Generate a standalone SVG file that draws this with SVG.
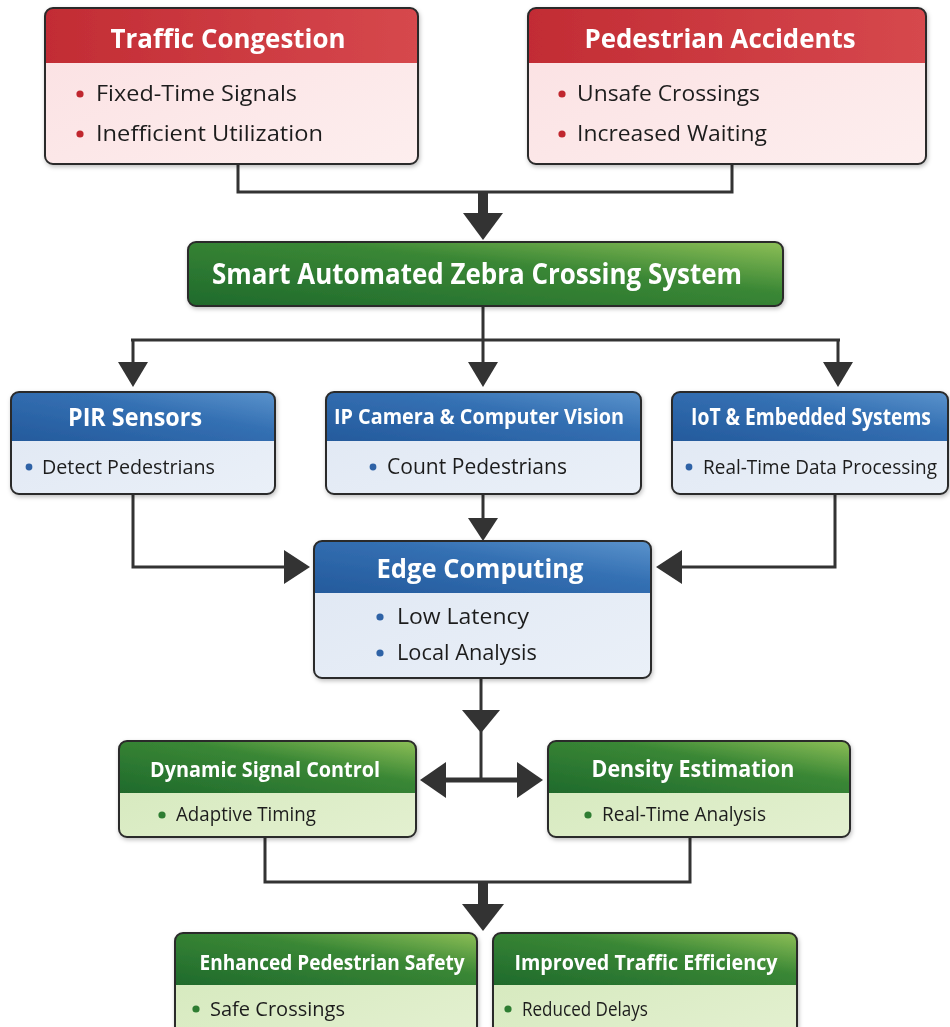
<svg xmlns="http://www.w3.org/2000/svg" width="950" height="1027" viewBox="0 0 950 1027">
<defs>
<linearGradient id="gRed" x1="0" y1="0" x2="1" y2="0"><stop offset="0" stop-color="#c22c34"/><stop offset="1" stop-color="#d6484d"/></linearGradient>
<linearGradient id="gRedB" x1="0" y1="0" x2="1" y2="1"><stop offset="0" stop-color="#fbe0e2"/><stop offset="1" stop-color="#fdeeee"/></linearGradient>
<linearGradient id="gBlue" x1="0" y1="1" x2="1" y2="0"><stop offset="0" stop-color="#245a9c"/><stop offset="0.6" stop-color="#3470b3"/><stop offset="1" stop-color="#5b93cc"/></linearGradient>
<linearGradient id="gBlueB" x1="0" y1="0" x2="1" y2="1"><stop offset="0" stop-color="#dfe7f3"/><stop offset="1" stop-color="#eaf0f8"/></linearGradient>
<linearGradient id="gGreen" x1="0" y1="1" x2="1" y2="0"><stop offset="0" stop-color="#1f6a2c"/><stop offset="0.6" stop-color="#3a8735"/><stop offset="1" stop-color="#8dbf57"/></linearGradient>
<linearGradient id="gGreenB" x1="0" y1="0" x2="1" y2="1"><stop offset="0" stop-color="#d3e8ba"/><stop offset="1" stop-color="#e3f0d0"/></linearGradient>
<filter id="sh" x="-5%" y="-10%" width="110%" height="130%"><feDropShadow dx="1" dy="2" stdDeviation="2" flood-color="#000" flood-opacity="0.25"/></filter>
</defs>
<style>
.frame{fill:none;stroke:#2b2b2b;stroke-width:2}
.title{font-family:"Open Sans","Liberation Sans",sans-serif;font-weight:700;fill:#ffffff;text-anchor:middle}
.item{font-family:"Open Sans","Liberation Sans",sans-serif;font-weight:400;fill:#1e1e1e}
.line{fill:none;stroke:#333333;stroke-width:3}
.head{fill:#333333}
.dr{fill:#c0282d}.db{fill:#2e62a6}.dg{fill:#2e7d32}
</style>
<rect width="950" height="1027" fill="#ffffff"/>

<g id="connectors">
<path class="line" d="M238,164 V192 H732 V164"/>
<rect x="478" y="191" width="10" height="24" class="head"/>
<polygon class="head" points="463,213 503,213 483,240"/>
<path class="line" d="M483,306 V340 M131,340 H840 M133,340 V365 M483,340 V365 M838,340 V365"/>
<polygon class="head" points="118,362 148,362 133,387"/>
<polygon class="head" points="468,362 498,362 483,387"/>
<polygon class="head" points="823,362 853,362 838,387"/>
<path class="line" d="M483,494 V520"/>
<polygon class="head" points="468,518 498,518 483,541"/>
<path class="line" d="M133,494 V567 H286"/>
<polygon class="head" points="284,550 284,584 310,567"/>
<path class="line" d="M835,494 V567 H680"/>
<polygon class="head" points="682,550 682,584 656,567"/>
<path class="line" d="M481,678 V780"/>
<polygon class="head" points="462,710 500,710 481,733"/>
<path class="line" style="stroke-width:5" d="M444,780 H520"/>
<polygon class="head" points="446,762 446,798 420,780"/>
<polygon class="head" points="517,762 517,798 543,780"/>
<path class="line" d="M265,837 V882 H690 V837"/>
<rect x="478" y="881" width="10" height="25" class="head"/>
<polygon class="head" points="462,904 504,904 483,931"/>
</g>

<g id="traffic-congestion" filter="url(#sh)">
<rect x="45" y="8" width="373" height="156" rx="8" fill="url(#gRedB)"/>
<path d="M45,63 V16 Q45,8 53,8 H410 Q418,8 418,16 V63 Z" fill="url(#gRed)"/>
<rect x="45" y="8" width="373" height="156" rx="8" class="frame"/>
<text class="title" x="228" y="48" font-size="27" textLength="235" lengthAdjust="spacingAndGlyphs">Traffic Congestion</text>
<circle class="dr" cx="80" cy="94" r="3.6"/>
<text class="item" x="96" y="101" font-size="22" textLength="201" lengthAdjust="spacingAndGlyphs">Fixed-Time Signals</text>
<circle class="dr" cx="80" cy="134" r="3.6"/>
<text class="item" x="96" y="141" font-size="22" textLength="227" lengthAdjust="spacingAndGlyphs">Inefficient Utilization</text>
</g>

<g id="pedestrian-accidents" filter="url(#sh)">
<rect x="528" y="8" width="398" height="156" rx="8" fill="url(#gRedB)"/>
<path d="M528,63 V16 Q528,8 536,8 H918 Q926,8 926,16 V63 Z" fill="url(#gRed)"/>
<rect x="528" y="8" width="398" height="156" rx="8" class="frame"/>
<text class="title" x="720" y="48" font-size="27" textLength="271" lengthAdjust="spacingAndGlyphs">Pedestrian Accidents</text>
<circle class="dr" cx="562" cy="94" r="3.6"/>
<text class="item" x="577" y="101" font-size="22" textLength="183" lengthAdjust="spacingAndGlyphs">Unsafe Crossings</text>
<circle class="dr" cx="562" cy="134" r="3.6"/>
<text class="item" x="577" y="141" font-size="22" textLength="190" lengthAdjust="spacingAndGlyphs">Increased Waiting</text>
</g>

<g id="smart-system" filter="url(#sh)">
<rect x="188" y="242" width="595" height="64" rx="8" fill="url(#gGreen)"/>
<rect x="188" y="242" width="595" height="64" rx="8" class="frame"/>
<text class="title" x="477" y="284" font-size="28" textLength="530" lengthAdjust="spacingAndGlyphs">Smart Automated Zebra Crossing System</text>
</g>

<g id="pir-sensors" filter="url(#sh)">
<rect x="11" y="392" width="264" height="102" rx="8" fill="url(#gBlueB)"/>
<path d="M11,441 V400 Q11,392 19,392 H267 Q275,392 275,400 V441 Z" fill="url(#gBlue)"/>
<rect x="11" y="392" width="264" height="102" rx="8" class="frame"/>
<text class="title" x="135" y="426" font-size="25" textLength="134" lengthAdjust="spacingAndGlyphs">PIR Sensors</text>
<circle class="db" cx="29" cy="467" r="3.4"/>
<text class="item" x="42" y="474" font-size="20" textLength="173" lengthAdjust="spacingAndGlyphs">Detect Pedestrians</text>
</g>

<g id="ip-camera" filter="url(#sh)">
<rect x="326" y="392" width="315" height="102" rx="8" fill="url(#gBlueB)"/>
<path d="M326,441 V400 Q326,392 334,392 H633 Q641,392 641,400 V441 Z" fill="url(#gBlue)"/>
<rect x="326" y="392" width="315" height="102" rx="8" class="frame"/>
<text class="title" x="479" y="424" font-size="22" textLength="290" lengthAdjust="spacingAndGlyphs">IP Camera &amp; Computer Vision</text>
<circle class="db" cx="373" cy="467" r="3.4"/>
<text class="item" x="387" y="474" font-size="21" textLength="180" lengthAdjust="spacingAndGlyphs">Count Pedestrians</text>
</g>

<g id="iot-embedded" filter="url(#sh)">
<rect x="672" y="392" width="276" height="102" rx="8" fill="url(#gBlueB)"/>
<path d="M672,441 V400 Q672,392 680,392 H940 Q948,392 948,400 V441 Z" fill="url(#gBlue)"/>
<rect x="672" y="392" width="276" height="102" rx="8" class="frame"/>
<text class="title" transform="translate(811,425) scale(0.83,1)" x="0" y="0" font-size="23" textLength="289" lengthAdjust="spacingAndGlyphs">IoT &amp; Embedded Systems</text>
<circle class="db" cx="689" cy="467" r="3.4"/>
<text class="item" transform="translate(703,474) scale(0.9,1)" x="0" y="0" font-size="20" textLength="260" lengthAdjust="spacingAndGlyphs">Real-Time Data Processing</text>
</g>

<g id="edge-computing" filter="url(#sh)">
<rect x="314" y="541" width="337" height="137" rx="8" fill="url(#gBlueB)"/>
<path d="M314,593 V549 Q314,541 322,541 H643 Q651,541 651,549 V593 Z" fill="url(#gBlue)"/>
<rect x="314" y="541" width="337" height="137" rx="8" class="frame"/>
<text class="title" x="480" y="578" font-size="27" textLength="207" lengthAdjust="spacingAndGlyphs">Edge Computing</text>
<circle class="db" cx="380" cy="617" r="3.6"/>
<text class="item" x="397" y="624" font-size="22" textLength="132" lengthAdjust="spacingAndGlyphs">Low Latency</text>
<circle class="db" cx="380" cy="653" r="3.6"/>
<text class="item" x="397" y="660" font-size="22" textLength="140" lengthAdjust="spacingAndGlyphs">Local Analysis</text>
</g>

<g id="dynamic-signal-control" filter="url(#sh)">
<rect x="119" y="741" width="297" height="96" rx="8" fill="url(#gGreenB)"/>
<path d="M119,793 V749 Q119,741 127,741 H408 Q416,741 416,749 V793 Z" fill="url(#gGreen)"/>
<rect x="119" y="741" width="297" height="96" rx="8" class="frame"/>
<text class="title" x="265" y="777" font-size="22" textLength="230" lengthAdjust="spacingAndGlyphs">Dynamic Signal Control</text>
<circle class="dg" cx="162" cy="815" r="3.6"/>
<text class="item" x="176" y="821" font-size="20" textLength="140" lengthAdjust="spacingAndGlyphs">Adaptive Timing</text>
</g>

<g id="density-estimation" filter="url(#sh)">
<rect x="548" y="741" width="302" height="96" rx="8" fill="url(#gGreenB)"/>
<path d="M548,793 V749 Q548,741 556,741 H842 Q850,741 850,749 V793 Z" fill="url(#gGreen)"/>
<rect x="548" y="741" width="302" height="96" rx="8" class="frame"/>
<text class="title" x="693" y="777" font-size="23" textLength="203" lengthAdjust="spacingAndGlyphs">Density Estimation</text>
<circle class="dg" cx="588" cy="815" r="3.6"/>
<text class="item" x="602" y="821" font-size="20" textLength="164" lengthAdjust="spacingAndGlyphs">Real-Time Analysis</text>
</g>

<g id="enhanced-safety" filter="url(#sh)">
<rect x="175" y="933" width="302" height="104" rx="8" fill="url(#gGreenB)"/>
<path d="M175,985 V941 Q175,933 183,933 H469 Q477,933 477,941 V985 Z" fill="url(#gGreen)"/>
<rect x="175" y="933" width="302" height="104" rx="8" class="frame"/>
<text class="title" x="332" y="970" font-size="22" textLength="265" lengthAdjust="spacingAndGlyphs">Enhanced Pedestrian Safety</text>
<circle class="dg" cx="196" cy="1009" r="3.6"/>
<text class="item" x="210" y="1016" font-size="20" textLength="135" lengthAdjust="spacingAndGlyphs">Safe Crossings</text>
</g>

<g id="improved-efficiency" filter="url(#sh)">
<rect x="493" y="933" width="304" height="104" rx="8" fill="url(#gGreenB)"/>
<path d="M493,985 V941 Q493,933 501,933 H789 Q797,933 797,941 V985 Z" fill="url(#gGreen)"/>
<rect x="493" y="933" width="304" height="104" rx="8" class="frame"/>
<text class="title" x="646" y="970" font-size="22" textLength="263" lengthAdjust="spacingAndGlyphs">Improved Traffic Efficiency</text>
<circle class="dg" cx="508" cy="1009" r="3.6"/>
<text class="item" x="522" y="1016" font-size="20" textLength="126" lengthAdjust="spacingAndGlyphs">Reduced Delays</text>
</g>
</svg>
